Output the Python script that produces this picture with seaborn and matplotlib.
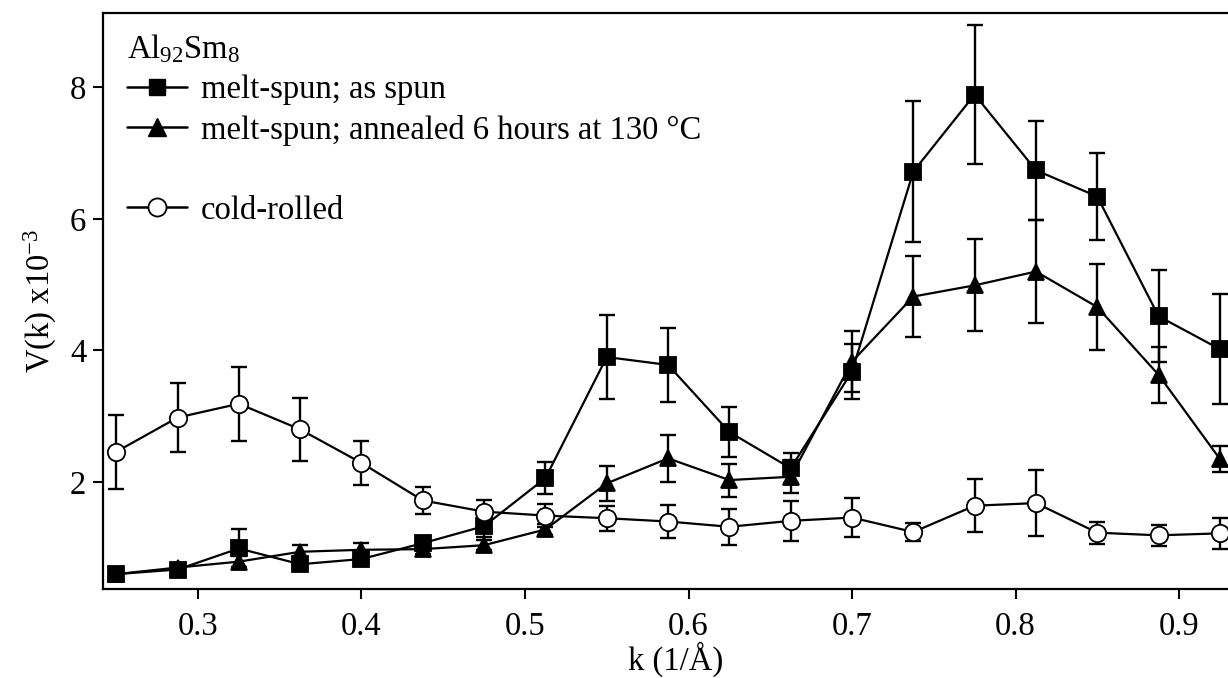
import numpy as np
import pandas as pd
import matplotlib
matplotlib.use("Agg")
import matplotlib.pyplot as plt
from matplotlib.lines import Line2D
import seaborn as sns

# ---- data ----
k = [0.25, 0.2875, 0.325, 0.3625, 0.4, 0.4375, 0.475, 0.5125, 0.55, 0.5875,
     0.625, 0.6625, 0.7, 0.7375, 0.775, 0.8125, 0.85, 0.8875, 0.925]

as_spun = [0.60, 0.67, 0.99, 0.75, 0.83, 1.07, 1.33, 2.06, 3.90, 3.78,
           2.76, 2.21, 3.68, 6.72, 7.89, 6.74, 6.34, 4.52, 4.02]
as_spun_err = [0.05, 0.05, 0.30, 0.08, 0.10, 0.08, 0.16, 0.24, 0.64, 0.56,
               0.38, 0.23, 0.42, 1.07, 1.05, 0.75, 0.66, 0.70, 0.84]

annealed = [0.60, 0.70, 0.79, 0.94, 0.97, 0.98, 1.04, 1.28, 1.98, 2.36,
            2.03, 2.08, 3.83, 4.82, 4.99, 5.20, 4.66, 3.63, 2.35]
annealed_err = [0.05, 0.06, 0.08, 0.10, 0.11, 0.08, 0.08, 0.08, 0.27, 0.36,
                0.25, 0.25, 0.46, 0.62, 0.70, 0.78, 0.65, 0.43, 0.20]

cold = [2.46, 2.98, 3.19, 2.80, 2.29, 1.72, 1.55, 1.49, 1.45, 1.40,
        1.32, 1.41, 1.46, 1.24, 1.64, 1.68, 1.23, 1.19, 1.22]
cold_err = [0.56, 0.52, 0.56, 0.48, 0.33, 0.21, 0.18, 0.18, 0.19, 0.25,
            0.27, 0.30, 0.29, 0.14, 0.40, 0.50, 0.17, 0.16, 0.24]

labels = ["melt-spun; as spun", "melt-spun; annealed 6 hours at 130 °C", "cold-rolled"]
x_ticks = [0.3, 0.4, 0.5, 0.6, 0.7, 0.8, 0.9]
y_ticks = [2, 4, 6, 8]

# ---- style ----
sns.set_theme(style="ticks")
plt.rcParams["font.family"] = ["Liberation Serif", "DejaVu Serif"]
plt.rcParams["mathtext.fontset"] = "custom"
plt.rcParams["mathtext.rm"] = "Liberation Serif"
plt.rcParams["mathtext.it"] = "Liberation Serif:italic"
plt.rcParams["text.color"] = "black"
plt.rcParams["axes.labelcolor"] = "black"

W, H = 1228, 678
fig = plt.figure(figsize=(W / 100, H / 100), dpi=100)
ax_left, ax_right, ax_top, ax_bot = 103, 1249, 13, 589
ax = fig.add_axes([ax_left / W, 1 - ax_bot / H, (ax_right - ax_left) / W, (ax_bot - ax_top) / H])

series = [
    (as_spun, as_spun_err, "s", "black", 11.0),
    (annealed, annealed_err, "^", "black", 12.0),
    (cold, cold_err, "o", "white", 12.5),
]

for vals, errs, mk, fc, ms in series:
    ax.errorbar(k, vals, yerr=errs, fmt="none", ecolor="black", elinewidth=1.7,
                capsize=5.8, capthick=1.7, zorder=2)

for (vals, errs, mk, fc, ms), lab in zip(series, labels):
    df = pd.DataFrame({"k": k, "v": vals})
    sns.lineplot(data=df, x="k", y="v", ax=ax, color="black", linewidth=1.6,
                 marker=mk, markersize=ms, markerfacecolor=fc,
                 markeredgecolor="black", markeredgewidth=1.3, zorder=3,
                 legend=False)

ax.set_xlim(0.2419, 0.9428)
ax.set_ylim(0.374, 9.13)
ax.set_xticks(x_ticks)
ax.set_xticklabels([f"{t:.1f}" for t in x_ticks])
ax.set_yticks(y_ticks)
ax.set_yticklabels([str(t) for t in y_ticks])
ax.tick_params(axis="both", direction="out", length=7, width=1.5, labelsize=23.5,
               color="black", labelcolor="black")
ax.tick_params(axis="x", pad=9)
ax.tick_params(axis="y", pad=5)
for s in ["left", "bottom", "top", "right"]:
    ax.spines[s].set_linewidth(1.6)
    ax.spines[s].set_color("black")

ax.set_xlabel("k (1/Å)", fontsize=23.5, color="black", labelpad=0)
ax.set_ylabel(r"V(k) x10$^{\mathregular{-3}}$", fontsize=23.5, color="black", labelpad=8)

# legend
handles = [
    Line2D([], [], color="black", lw=1.8, marker="s", markersize=11.5,
           markerfacecolor="black", markeredgecolor="black"),
    Line2D([], [], color="black", lw=1.8, marker="^", markersize=12.5,
           markerfacecolor="black", markeredgecolor="black"),
    Line2D([], [], color="none", lw=0),
    Line2D([], [], color="black", lw=1.8, marker="o", markersize=13,
           markerfacecolor="white", markeredgecolor="black", markeredgewidth=1.3),
]
leg_labels = [labels[0], labels[1], " ", labels[2]]
leg = ax.legend(handles, leg_labels, loc="upper left",
                bbox_to_anchor=(0.021, 0.966), frameon=False, fontsize=23.5,
                title=r"Al$_{\mathregular{92}}$Sm$_{\mathregular{8}}$",
                title_fontsize=23.5, alignment="left", borderpad=0,
                handlelength=1.85, handletextpad=0.42, labelspacing=0.29,
                numpoints=1, borderaxespad=0)

fig.savefig("out.png", dpi=100)
